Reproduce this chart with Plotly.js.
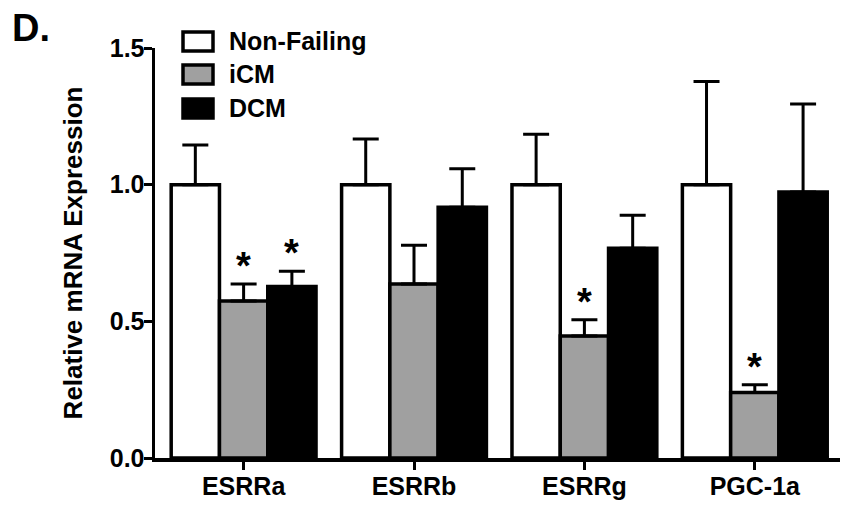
<!DOCTYPE html>
<html>
<head>
<meta charset="utf-8">
<script src="https://cdn.plot.ly/plotly-3.0.1.min.js"></script>
<style>html,body{margin:0;padding:0;background:#fff;}#chart{width:846px;height:508px;}</style>
</head>
<body>
<div id="chart"></div>
<script>
// ---- data ----
const categories = ["ESRRa", "ESRRb", "ESRRg", "PGC-1a"];
const seriesNames = ["Non-Failing", "iCM", "DCM"];
const nonFailing = [1.0, 1.0, 1.0, 1.0];
const nonFailingErr = [0.145, 0.167, 0.184, 0.377];
const iCM = [0.574, 0.637, 0.446, 0.240];
const iCMErr = [0.063, 0.141, 0.060, 0.028];
const DCM = [0.627, 0.917, 0.767, 0.973];
const DCMErr = [0.056, 0.141, 0.121, 0.322];
// significance markers (true = "*")
const iCMSig = [true, false, true, true];
const DCMSig = [true, false, false, false];
const yTickVals = [0, 0.5, 1.0, 1.5];
const yTickText = ["0.0", "0.5", "1.0", "1.5"];

// ---- styling ----
const FONT = "Arial, 'Liberation Sans', Helvetica, sans-serif";
const fills = ["#ffffff", "#a0a0a0", "#000000"];
const LW = 3.5;
const BARGAP = 0.15;
const barW = (1 - BARGAP) / 3;

function barTrace(name, y, err, fill) {
  return {
    type: "bar", name: name, x: categories, y: y,
    marker: {color: fill, line: {color: "#000", width: LW}},
    error_y: {type: "data", array: err, arrayminus: err.map(() => 0), symmetric: false,
              color: "#000", thickness: 3, width: 13},
    showlegend: false, hoverinfo: "skip"
  };
}

const traces = [
  barTrace(seriesNames[0], nonFailing, nonFailingErr, fills[0]),
  barTrace(seriesNames[1], iCM, iCMErr, fills[1]),
  barTrace(seriesNames[2], DCM, DCMErr, fills[2])
];

// plot-area geometry (pixels) for the hand-drawn legend
const W = 846, H = 508;
const M = {l: 155, r: 6, t: 48, b: 50};
const pw = W - M.l - M.r, ph = H - M.t - M.b;
const px = v => (v - M.l) / pw;
const py = v => (H - M.b - v) / ph;

const annotations = [];
const shapes = [];

// asterisks
function addStars(sig, vals, errs, offset) {
  sig.forEach((s, i) => {
    if (!s) return;
    annotations.push({
      x: i + offset, y: vals[i] + errs[i], xref: "x", yref: "y",
      text: "*", showarrow: false, yanchor: "bottom", yshift: -5,
      font: {family: FONT, size: 38, color: "#000", weight: 700}
    });
  });
}
addStars(iCMSig, iCM, iCMErr, 0);
addStars(DCMSig, DCM, DCMErr, barW);

// panel letter
annotations.push({
  x: px(10), y: py(5), xref: "paper", yref: "paper", xanchor: "left", yanchor: "top",
  text: "D.", showarrow: false, font: {family: FONT, size: 38, color: "#000", weight: 700}
});

// legend
const legTop = [32, 65, 99];
seriesNames.forEach((nm, k) => {
  shapes.push({
    type: "rect", xref: "paper", yref: "paper",
    x0: px(183), x1: px(213), y0: py(legTop[k]), y1: py(legTop[k] + 19),
    fillcolor: fills[k], line: {color: "#000", width: LW}
  });
  annotations.push({
    x: px(227), y: py(legTop[k] + 9), xref: "paper", yref: "paper",
    xanchor: "left", yanchor: "middle", text: nm, showarrow: false,
    font: {family: FONT, size: 25, color: "#000", weight: 700}
  });
});

const layout = {
  width: W, height: H,
  margin: M,
  paper_bgcolor: "#fff", plot_bgcolor: "#fff",
  barmode: "group", bargap: BARGAP, bargroupgap: 0,
  showlegend: false,
  font: {family: FONT, color: "#000"},
  xaxis: {
    type: "category", range: [-0.52, 3.5],
    showline: true, linecolor: "#000", linewidth: LW,
    ticks: "outside", ticklen: 8, tickwidth: 3, tickcolor: "#000",
    ticklabelstandoff: -5,
    showgrid: false, zeroline: false,
    tickfont: {family: FONT, size: 25, color: "#000", weight: 700}
  },
  yaxis: {
    range: [0, 1.5], tickvals: yTickVals, ticktext: yTickText,
    showline: true, linecolor: "#000", linewidth: LW,
    ticks: "outside", ticklen: 8, tickwidth: 3, tickcolor: "#000",
    ticklabelstandoff: -6,
    showgrid: false, zeroline: false,
    tickfont: {family: FONT, size: 25, color: "#000", weight: 700},
    title: {text: "Relative mRNA Expression", standoff: 20,
            font: {family: FONT, size: 26, color: "#000", weight: 700}}
  },
  annotations: annotations,
  shapes: shapes
};

Plotly.newPlot("chart", traces, layout, {displayModeBar: false, staticPlot: true});
</script>
</body>
</html>
